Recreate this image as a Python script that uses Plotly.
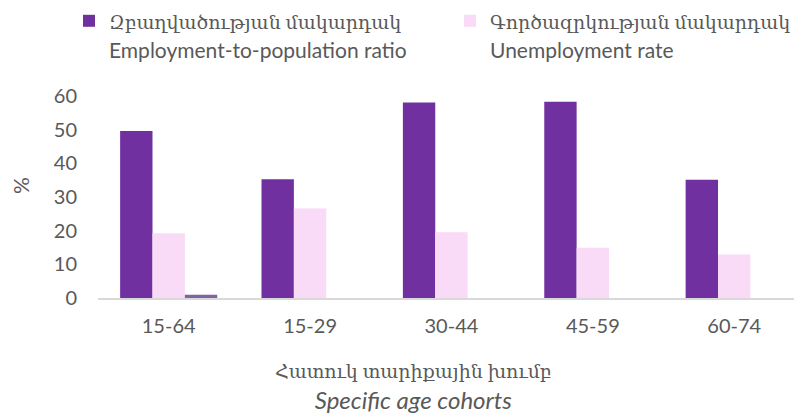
import plotly.graph_objects as go

categories = ["15-64", "15-29", "30-44", "45-59", "60-74"]
employment = [49.6, 35.3, 58.1, 58.3, 35.1]
unemployment = [19.2, 26.6, 19.5, 14.9, 12.9]
extra_series = [1.0, None, None, None, None]

name_emp_hy = "Զբաղվածության մակարդակ"
name_emp_en = "Employment-to-population ratio"
name_unemp_hy = "Գործազրկության մակարդակ"
name_unemp_en = "Unemployment rate"
xtitle_hy = "Հատուկ տարիքային խումբ"
xtitle_en = "Specific age cohorts"
ytitle = "%"

FONT = "Lato, 'DejaVu Serif', sans-serif"
GREY = "#595959"


def two_lines(a, b):
    return (f"<span style='font-size:19px'>{a}</span><br>"
            f"<span style='font-size:21px'>{b}</span>")


fig = go.Figure()
fig.add_trace(go.Bar(x=categories, y=employment, name=two_lines(name_emp_hy, name_emp_en),
                     legend="legend",
                     marker=dict(color="#7030A0", line=dict(width=0))))
fig.add_trace(go.Bar(x=categories, y=unemployment, name=two_lines(name_unemp_hy, name_unemp_en),
                     legend="legend2",
                     marker=dict(color="#F9DAF7", line=dict(width=0))))
fig.add_trace(go.Bar(x=categories, y=extra_series, name="", showlegend=False,
                     marker=dict(color="#8064A2", line=dict(width=0))))

legend_common = dict(orientation="h", xref="container", yref="container",
                     y=1.0, xanchor="left", yanchor="top",
                     valign="top", font=dict(size=22, color=GREY, family=FONT),
                     bgcolor="rgba(0,0,0,0)")

fig.update_layout(
    width=794, height=417,
    margin=dict(l=98, r=0, t=96, b=119),
    paper_bgcolor="white", plot_bgcolor="white",
    font=dict(family=FONT, color=GREY, size=20),
    barmode="group", bargap=0.313, bargroupgap=0,
    showlegend=True,
    legend=dict(x=69 / 794, **legend_common),
    legend2=dict(x=450 / 794, **legend_common),
    xaxis=dict(type="category", range=[-0.5, 4.423], showline=True,
               linecolor="#D9D9D9", linewidth=1.5, ticks="", showgrid=False,
               tickfont=dict(size=20, color=GREY), ticklabelstandoff=9),
    yaxis=dict(range=[0, 60], dtick=10, showgrid=False, showline=False,
               zeroline=False, ticks="", tickfont=dict(size=20, color=GREY),
               ticklabelstandoff=20),
    annotations=[
        dict(text=ytitle, xref="paper", yref="paper", x=(20 - 98) / 696, y=0.554,
             xanchor="center", yanchor="middle", textangle=-90, showarrow=False,
             font=dict(size=21, color=GREY, family=FONT)),
        dict(text=f"<span style='font-size:19px'>{xtitle_hy}</span><br>"
                  f"<span style='font-size:24px'><i>{xtitle_en}</i></span>",
             xref="paper", yref="paper", x=(413 - 98) / 696, y=-0.292,
             xanchor="center", yanchor="top", showarrow=False, align="center",
             font=dict(size=24, color=GREY, family=FONT)),
    ],
)

fig.write_html("out.html", config={"displayModeBar": False},
               post_script="document.body.style.margin='0px';")
